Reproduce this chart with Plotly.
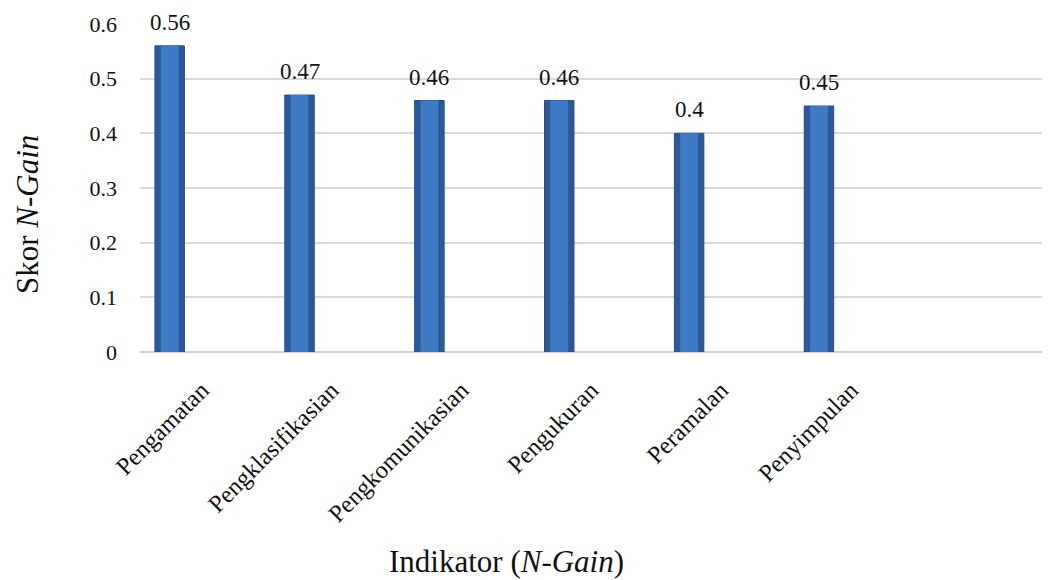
import plotly.graph_objects as go

categories = ["Pengamatan", "Pengklasifikasian", "Pengkomunikasian", "Pengukuran", "Peramalan", "Penyimpulan"]
values = [0.56, 0.47, 0.46, 0.46, 0.40, 0.45]
value_labels = ["0.56", "0.47", "0.46", "0.46", "0.4", "0.45"]
y_ticks = [0, 0.1, 0.2, 0.3, 0.4, 0.5, 0.6]
y_tick_text = ["0", "0.1", "0.2", "0.3", "0.4", "0.5", "0.6"]

idx = list(range(len(categories)))
BAR_OFF = -0.385
BAR_W = 0.227
LABEL_SHIFT = -0.025
FONT = "Liberation Serif"

fig = go.Figure()
# outer (darker edge) bar
fig.add_trace(go.Bar(
    x=idx, y=values, offset=BAR_OFF, width=BAR_W,
    marker=dict(color="#2c5a98", line=dict(color="#24507f", width=1)),
    hoverinfo="skip", showlegend=False,
))
# inner lighter highlight
fig.add_trace(go.Bar(
    x=idx, y=values, offset=BAR_OFF + 0.045, width=BAR_W - 0.09,
    marker=dict(color="#3f7bc4", line=dict(width=0)),
    hoverinfo="skip", showlegend=False,
))

annotations = []
for i, v, lab in zip(idx, values, value_labels):
    annotations.append(dict(
        x=i + BAR_OFF + BAR_W / 2, y=v, xref="x", yref="y", text=lab,
        showarrow=False, xanchor="center", yanchor="bottom", yshift=9,
        font=dict(family=FONT, size=23, color="#111111"),
    ))

annotations += [
    dict(text="Skor <i>N-Gain</i>", xref="paper", yref="paper",
         x=(19 - 132) / 909, y=(344 - 207) / 328, textangle=-90,
         showarrow=False, font=dict(family=FONT, size=31, color="#111111"),
         xanchor="center", yanchor="middle"),
    dict(text="Indikator (<i>N-Gain</i>)", xref="paper", yref="paper",
         x=(498 - 132) / 909, y=-(553 - 344) / 328,
         showarrow=False, font=dict(family=FONT, size=31, color="#111111"),
         xanchor="center", yanchor="middle"),
]

fig.update_layout(
    width=1042, height=572,
    margin=dict(l=132, r=1, t=16, b=228),
    paper_bgcolor="white", plot_bgcolor="white",
    barmode="overlay",
    font=dict(family=FONT, size=20, color="#111111"),
    xaxis=dict(
        range=[-0.5, 6.5], tickmode="array",
        tickvals=[i + LABEL_SHIFT for i in idx], ticktext=categories,
        tickangle=-45, showgrid=False, zeroline=False, showline=False,
        ticks="", ticklabelstandoff=18,
        tickfont=dict(family=FONT, size=24.5, color="#111111"),
    ),
    yaxis=dict(
        range=[0, 0.6], tickmode="array", tickvals=y_ticks, ticktext=y_tick_text,
        showgrid=True, gridcolor="#d9d9d9", gridwidth=1.5,
        zeroline=True, zerolinecolor="#d0d0d0", zerolinewidth=2,
        showline=False, ticks="", ticklabelstandoff=22,
        tickfont=dict(family=FONT, size=22, color="#111111"),
    ),
    annotations=annotations,
)

fig.write_html("out.html")
